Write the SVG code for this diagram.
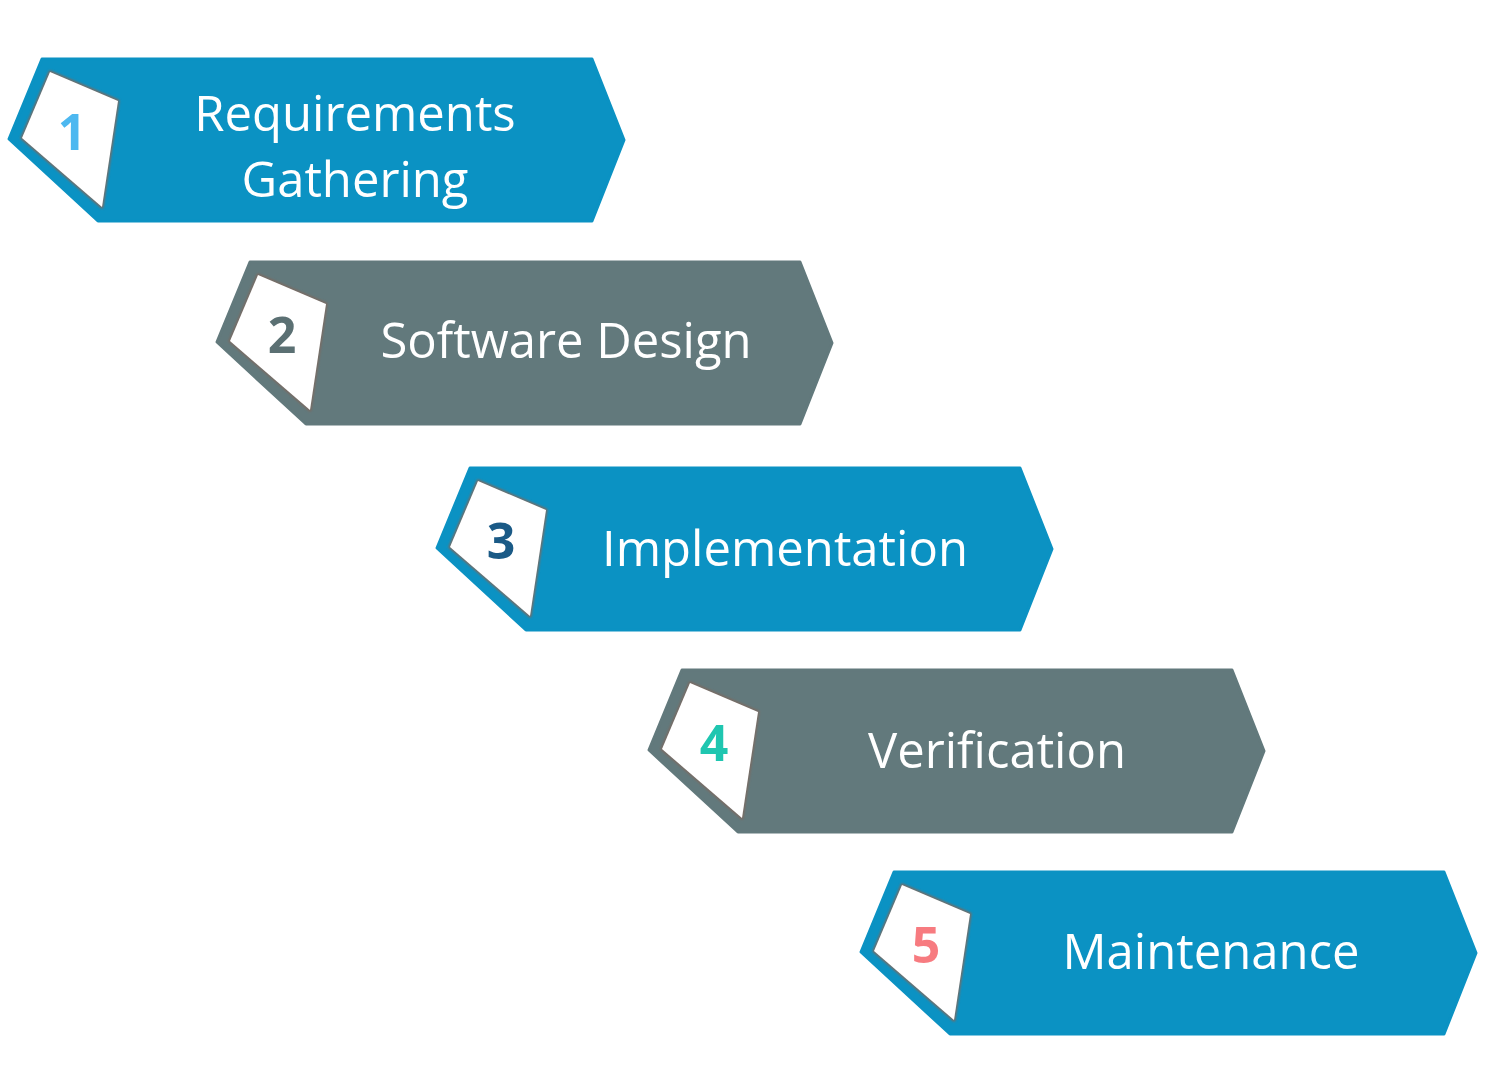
<svg xmlns="http://www.w3.org/2000/svg" width="1508" height="1070" viewBox="0 0 1508 1070">
<defs>
<style>
.blue{fill:#0b92c3;stroke:#0b92c3}
.gray{fill:#62797c;stroke:#62797c}
.shape{stroke-width:3;stroke-linejoin:round}
.edge{fill:none;stroke:#7a6a62;stroke-width:3;stroke-linejoin:round}
.quad{fill:#ffffff}
.label{font-family:"Open Sans","Liberation Sans",sans-serif;font-size:49px;fill:#ffffff;text-anchor:middle}
.num{font-family:"Open Sans","Liberation Sans",sans-serif;font-size:50px;font-weight:bold;text-anchor:middle}
</style>
<filter id="soft" x="-10%" y="-10%" width="120%" height="120%"><feGaussianBlur stdDeviation="1"/></filter>
<polygon id="outer" points="0,1 550,1 582,82 550,163 56,163 -33,81"/>
<polygon id="inner" points="8,14 76,43 60,149 -20,80"/>
</defs>
<rect width="1508" height="1070" fill="#ffffff"/>
<g id="connectors"/>
<g id="node1" transform="translate(42,58)">
<use href="#outer" class="shape blue"/>
<use href="#inner" class="edge" filter="url(#soft)"/>
<use href="#inner" class="quad"/>
<text class="num" x="30" y="92" fill="#4db8f0">1</text>
<text class="label" x="313" y="73">Requirements</text>
<text class="label" x="313" y="139">Gathering</text>
</g>
<g id="node2" transform="translate(250,261)">
<use href="#outer" class="shape gray"/>
<use href="#inner" class="edge" filter="url(#soft)"/>
<use href="#inner" class="quad"/>
<text class="num" x="32" y="92" fill="#5b7073">2</text>
<text class="label" x="316" y="97">Software Design</text>
</g>
<g id="node3" transform="translate(470,467)">
<use href="#outer" class="shape blue"/>
<use href="#inner" class="edge" filter="url(#soft)"/>
<use href="#inner" class="quad"/>
<text class="num" x="31" y="92" fill="#1a5a86">3</text>
<text class="label" x="315" y="99">Implementation</text>
</g>
<g id="node4" transform="translate(682,669)">
<use href="#outer" class="shape gray"/>
<use href="#inner" class="edge" filter="url(#soft)"/>
<use href="#inner" class="quad"/>
<text class="num" x="32" y="92" fill="#1fc6b0">4</text>
<text class="label" x="315" y="99">Verification</text>
</g>
<g id="node5" transform="translate(894,871)">
<use href="#outer" class="shape blue"/>
<use href="#inner" class="edge" filter="url(#soft)"/>
<use href="#inner" class="quad"/>
<text class="num" x="32" y="92" fill="#f77b80">5</text>
<text class="label" x="317" y="98">Maintenance</text>
</g>
</svg>
